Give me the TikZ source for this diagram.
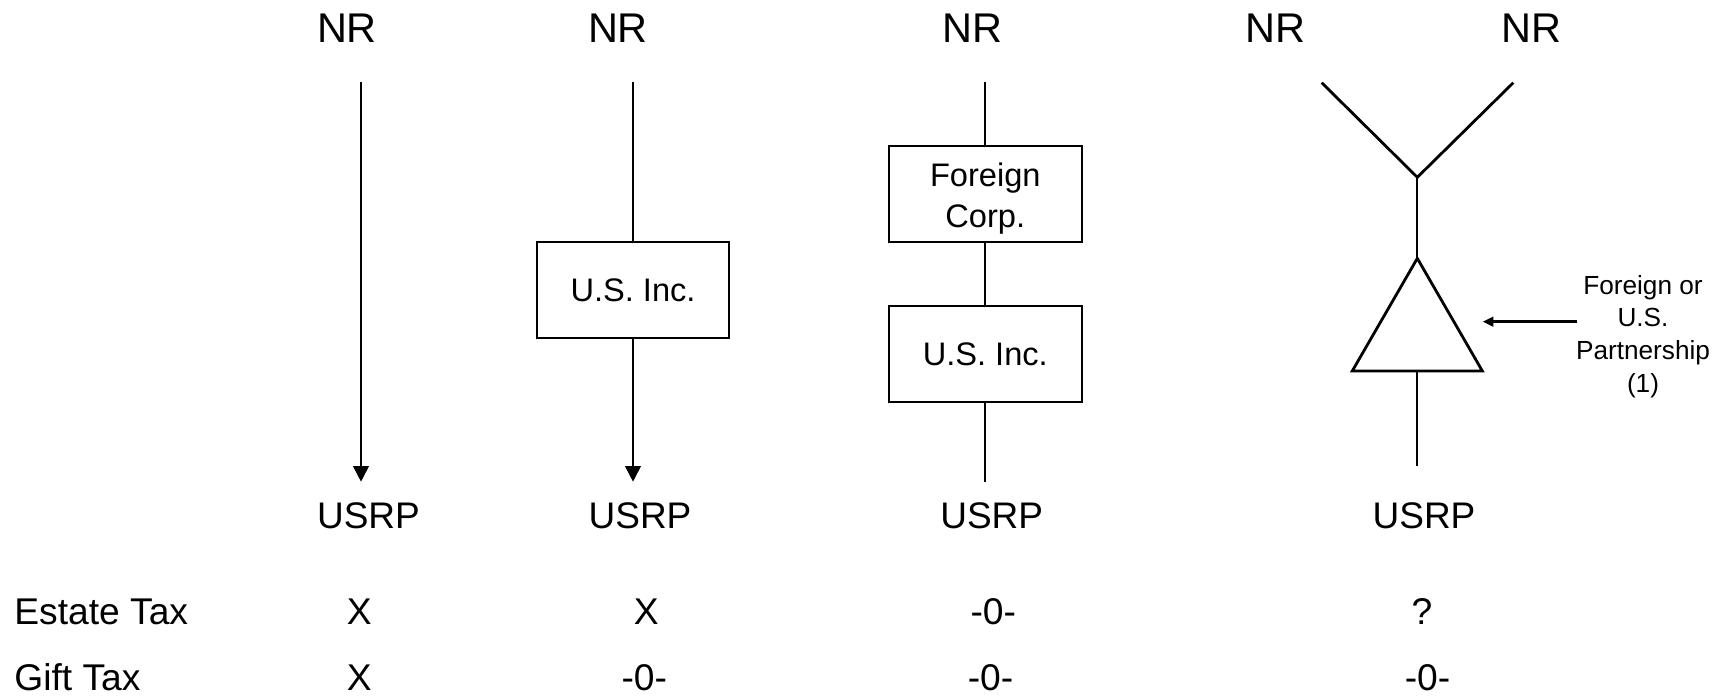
\documentclass[tikz,border=0pt]{standalone}
\usepackage{fontspec}
\setmainfont{Liberation Sans}
\usetikzlibrary{arrows.meta,shapes.geometric}
\begin{document}
\begin{tikzpicture}[x=0.5pt,y=-0.5pt,
  toplabel/.style={anchor=base,inner sep=0pt,font=\fontsize{20.75pt}{24pt}\selectfont},
  botlabel/.style={anchor=base,inner sep=0pt,font=\fontsize{18.5pt}{22pt}\selectfont},
  rowlabel/.style={anchor=base,inner sep=0pt,font=\fontsize{18.6pt}{22pt}\selectfont},
  entity/.style={draw,line width=1pt,rectangle,minimum width=96.3pt,minimum height=48pt,inner sep=0pt,outer sep=0pt,align=center,font=\fontsize{16.3pt}{20.1pt}\selectfont},
  partner/.style={draw,line width=1.4pt,regular polygon,regular polygon sides=3,minimum size=75.06pt,inner sep=0pt,outer sep=0pt},
  link/.style={line width=0.9pt},
  vlink/.style={line width=1.4pt,line join=miter},
  own/.style={link,-{Triangle[width=7.85pt,length=7.85pt]}},
  note/.style={line width=1.3pt,-{Triangle[width=4.7pt,length=5.3pt]}},
  notetext/.style={anchor=north,inner sep=0pt,align=center,font=\fontsize{13.1pt}{16.3pt}\selectfont}]
\useasboundingbox[fill=white] (0,0) rectangle (1724,697);

% top labels
\node[toplabel] (nr1) at (347,42.3) {NR};
\node[toplabel] (nr2) at (618,42.3) {NR};
\node[toplabel] (nr3) at (972,42.3) {NR};
\node[toplabel] (nr4) at (1275.4,42.3) {NR};
\node[toplabel] (nr5) at (1531.6,42.3) {NR};

% bottom labels
\node[botlabel] (usrp1) at (368.5,528) {USRP};
\node[botlabel] (usrp2) at (640,528) {USRP};
\node[botlabel] (usrp3) at (991.7,528) {USRP};
\node[botlabel] (usrp4) at (1424,528) {USRP};

% column 1
\coordinate (c1top) at (361,81.7);
\coordinate (c1tip) at (361,481.7);
\draw[own] (c1top) -- (c1tip);

% column 2
\coordinate (c2top) at (633,81.7);
\coordinate (c2tip) at (633,481.7);
\node[entity] (us2) at (633,290.3) {U.S. Inc.};
\draw[link] (c2top) -- (us2.north);
\draw[own] (us2.south) -- (c2tip);

% column 3
\coordinate (c3top) at (985.3,81.7);
\coordinate (c3end) at (985.3,481.7);
\node[entity] (fc3) at (985.3,193.85) {\rule{0pt}{16.5pt}Foreign\\Corp.};
\node[entity] (us3) at (985.3,354.35) {U.S. Inc.};
\draw[link] (c3top) -- (fc3.north);
\draw[link] (fc3.south) -- (us3.north);
\draw[link] (us3.south) -- (c3end);

% column 4
\coordinate (c4l) at (1321.7,82.7);
\coordinate (c4r) at (1513.3,82.7);
\coordinate (c4j) at (1417.3,177.3);
\coordinate (c4end) at (1417.3,466);
\node[partner] (ptn) at (1417.3,333.4) {};
\draw[vlink] (c4l) -- (c4j) -- (c4r);
\draw[link] (c4j) -- (ptn.corner 1);
\draw[link] (ptn.south) -- (c4end);

% partnership note
\node[notetext] (ptnote) at (1643,275) {Foreign or\\U.S.\\Partnership\\(1)};
\coordinate (notetail) at (1577.3,321.7);
\coordinate (notetip) at (1482.7,321.7);
\draw[note] (notetail) -- (notetip);

% table rows
\node[rowlabel,anchor=base west] (estate) at (14,624.3) {Estate Tax};
\node[rowlabel,anchor=base west] (gift) at (14,690) {Gift Tax};

\node[rowlabel] (e1) at (359.2,624.3) {X};
\node[rowlabel] (e2) at (646.2,624.3) {X};
\node[rowlabel] (e3) at (993.3,624.3) {-0-};
\node[rowlabel] (e4) at (1422,624.3) {?};

\node[rowlabel] (g1) at (359.2,690) {X};
\node[rowlabel] (g2) at (644.3,690) {-0-};
\node[rowlabel] (g3) at (990.5,690) {-0-};
\node[rowlabel] (g4) at (1427.5,690) {-0-};
\end{tikzpicture}
\end{document}
